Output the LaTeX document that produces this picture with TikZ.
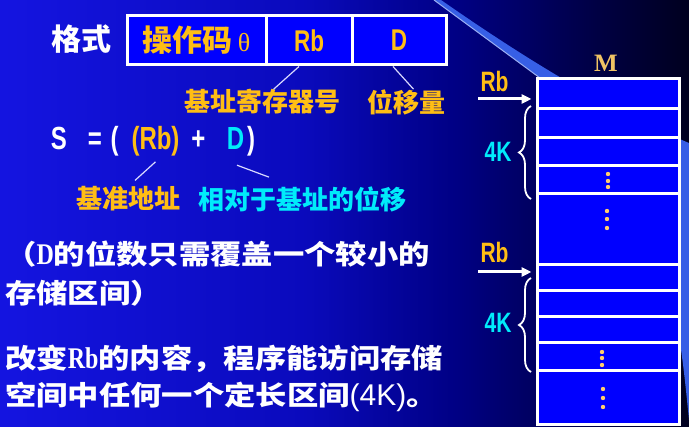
\documentclass[tikz,border=0pt]{standalone}
\usepackage{fontspec}
\newfontfamily\hei{Noto Sans CJK SC}
\newfontfamily\heiwide{Noto Sans CJK SC}[FakeStretch=1.16]
\newfontfamily\narrow{Liberation Sans}[FakeStretch=0.75]
\newfontfamily\arial{Liberation Sans}
\newfontfamily\tms{Liberation Serif}
\newfontfamily\tmsn{Liberation Serif Bold}[FakeStretch=0.8]
\definecolor{SlideBlue}{RGB}{0,0,255}
\definecolor{SlideGold}{RGB}{255,190,20}
\definecolor{SlideCyan}{RGB}{0,235,250}
\definecolor{SlideSky}{RGB}{55,95,230}
\definecolor{SlideDot}{RGB}{255,205,110}
\definecolor{SlideM}{RGB}{240,195,100}
\usetikzlibrary{
    arrows.meta,
    calc,
    decorations.pathreplacing,
}
\pgfdeclarehorizontalshading{slidebg}{100bp}{rgb(0bp)=(0.08,0.08,0.88); rgb(25bp)=(0.08,0.08,0.88); rgb(47bp)=(0.04,0.04,0.74); rgb(58bp)=(0,0,0.52); rgb(68.5bp)=(0,0,0.26); rgb(75bp)=(0,0,0.12); rgb(100bp)=(0,0,0.12)}

\begin{document}
\begin{tikzpicture}[x=1pt, y=-1pt,
    txt/.style={inner sep=0, text=#1, font=\hei\bfseries\fontsize{30}{36}\selectfont},
    txt/.default=white,
    lbl/.style={inner sep=0, text=#1, font=\hei\bfseries\fontsize{26}{30}\selectfont},
    para/.style={inner sep=0, anchor=west, text=white, font=\heiwide\bfseries\fontsize{27}{32}\selectfont},
    nar/.style={inner sep=0, anchor=base, text=#1, font=\narrow\bfseries\fontsize{28}{32}\selectfont},
    nar/.default=white,
    frm/.style={nar=#1, font=\narrow\bfseries\fontsize{32}{36}\selectfont},
    frm/.default=white,
    cell/.style={draw=white, line width=3pt, fill=SlideBlue, minimum height=49pt, minimum width=#1, inner sep=0},
    memrow/.style={draw=white, line width=3pt, fill=SlideBlue, minimum width=142pt, minimum height=#1, inner sep=0},
    lead/.style={draw=white!85!SlideBlue, line width=1.2pt},
    ptr/.style={draw=white, line width=3pt, -{Triangle[length=10pt, width=9pt]}, shorten >=4pt},
    brc/.style={draw=white, line width=1.8pt, decorate, decoration={brace, amplitude=12pt}}
]
    \useasboundingbox (0,0) rectangle (689,427);
    % background with the light swoosh
    \shade[shading=slidebg] (0,0) rectangle (689,427);
    \fill[SlideSky] (434,0) -- (441,0) .. controls (530,62) and (610,110) .. (689,143) -- (689,420)
        .. controls (686,390) and (683,360) .. (679,337) .. controls (660,220) and (620,150) .. (540,78) -- cycle;
    \draw[SlideSky!50!white, line width=1pt] (434,0) -- (540,78);

    % instruction format
    \node[txt] (fmt) at (82,39) {格式};
    \node[cell=139pt, txt=SlideGold] (opcell) at (196.5,40.5) {操作码\hspace{5pt}{\tms\mdseries\fontsize{26}{30}\selectfont θ}};
    \node[cell=86pt, nar=SlideGold, anchor=center, font=\narrow\bfseries\fontsize{30}{36}\selectfont] (rbcell) at (309,40.5) {Rb};
    \node[cell=94pt, nar=SlideGold, anchor=center, font=\narrow\bfseries\fontsize{30}{36}\selectfont] (dcell) at (399,40.5) {D};
    \node[lbl=SlideGold] (regno) at (262.5,102) {基址寄存器号};
    \node[lbl=SlideGold] (dispamt) at (406.5,102) {位移量};
    \draw[lead] ([xshift=-10pt]rbcell.south) -- ([xshift=11pt]regno.north);
    \draw[lead] ([xshift=-6pt]dcell.south) -- ([xshift=7pt]dispamt.north);

    % effective address
    \node[frm] (fS) at (59,150) {S};
    \node[frm] (fEq) at (95,150) {=};
    \node[frm] (fOpen) at (114.5,150) {(};
    \node[frm=SlideGold] (fRb) at (155.5,150) {(Rb)};
    \node[frm] (fPlus) at (198.5,150) {+};
    \node[frm=SlideCyan] (fD) at (235.5,150) {D};
    \node[frm] (fClose) at (251,150) {)};
    \node[lbl=SlideGold] (baseaddr) at (128,199) {基准地址};
    \node[lbl=SlideCyan] (reldisp) at (302,199) {相对于基址的位移};
    \draw[lead] ([yshift=-5pt]fRb.south) -- ([xshift=7pt,yshift=6pt]baseaddr.north);
    \draw[lead] ([xshift=1.5pt,yshift=-15pt]fD.south) -- ([xshift=-33pt,yshift=9pt]reldisp.north);

    \node[para] (noteA) at (5,254) {（{\tmsn\fontsize{30}{32}\selectfont D}的位数只需覆盖一个较小的};
    \node[para] (noteB) at (5,293) {存储区间）};
    \node[para] (noteC) at (5,359) {改变{\tmsn\fontsize{30}{32}\selectfont Rb}的内容，程序能访问存储};
    \node[para] (noteD) at (5,397) {空间中任何一个定长区间{\arial\mdseries\fontsize{30}{32}\selectfont (4K)}。};

    % memory
    \node[inner sep=0, text=SlideM, font=\tms\bfseries\fontsize{25}{30}\selectfont] (mem) at (606,63) {M};
    \foreach \i/\a/\b in {1/79/109, 2/109/138, 3/138/166, 4/166/194, 5/194/265,
                          6/265/291, 7/291/317, 8/317/343, 9/343/371, 10/371/425}
        \node[memrow={(\b-\a)*1pt}] (row\i) at (608,{(\a+\b)/2}) {};
    \foreach \x/\y in {608/174, 608/181, 608/187, 607/211, 607/219, 607/228,
                       602/352, 602/358, 602/365, 603/389, 603/398, 603/407}
        \fill[SlideDot] (\x,\y) circle (2.2pt);

    \node[nar=SlideGold] (rbA) at (494.5,92) {Rb};
    \node[nar=SlideGold] (rbB) at (494.5,263) {Rb};
    \coordinate (tailA) at (478,99);
    \coordinate (tailB) at (478,272);
    \draw[ptr] (tailA) -- (tailA -| row1.west);
    \draw[ptr] (tailB) -- (tailB -| row6.west);
    \draw[brc] (531,199) -- (531,106);
    \draw[brc] (531,372) -- (531,278);
    \node[nar=SlideCyan] (kA) at (498,162) {4K};
    \node[nar=SlideCyan] (kB) at (498,333) {4K};
\end{tikzpicture}
\end{document}
